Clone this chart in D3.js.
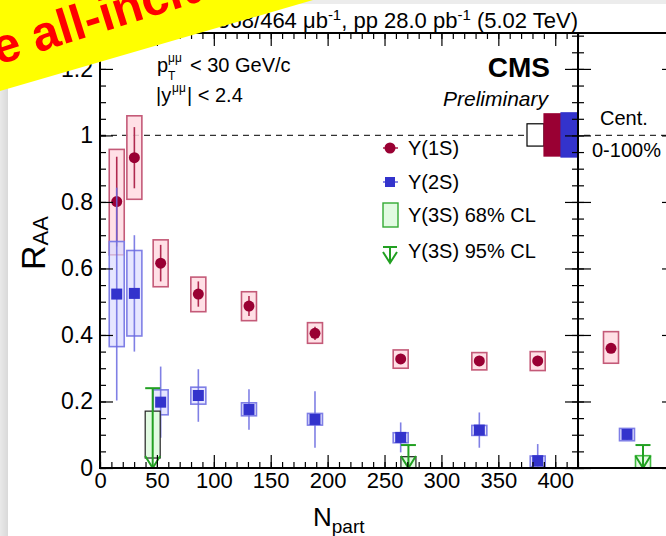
<!DOCTYPE html>
<html><head><meta charset="utf-8">
<script src="https://cdn.jsdelivr.net/npm/d3@7"></script>
<style>
body{margin:0;background:#fff}
svg{display:block;font-family:"Liberation Sans",Arial,Helvetica,sans-serif}
</style></head>
<body><svg id="c" width="666" height="536"></svg>
<script>
// ---------------- data ----------------
const nPart = [14.7, 30.2, 53.3, 86.4, 130.9, 188.9, 264.2, 333.3, 384.6];
const raa1S = [0.801, 0.933, 0.616, 0.523, 0.487, 0.405, 0.328, 0.322, 0.322];
const stat1S = [0.135, 0.092, 0.055, 0.038, 0.030, 0.020, 0.015, 0.015, 0.015];
const systLo1S = [0.641, 0.808, 0.545, 0.470, 0.443, 0.375, 0.300, 0.295, 0.293];
const systHi1S = [0.958, 1.059, 0.686, 0.574, 0.530, 0.437, 0.355, 0.347, 0.350];

const raa2S = [0.523, 0.525, 0.198, 0.218, 0.176, 0.146, 0.092, 0.114, 0.022];
const stat2S = [0.320, 0.175, 0.107, 0.079, 0.061, 0.085, 0.045, 0.053, 0.050];
const systLo2S = [0.365, 0.397, 0.160, 0.192, 0.157, 0.129, 0.076, 0.098, 0.004];
const systHi2S = [0.681, 0.654, 0.235, 0.243, 0.196, 0.164, 0.106, 0.128, 0.036];

const nPart3S = [46.3, 271.0];
const upper95_3S = [0.240, 0.069];
const cl68Lo3S = [0.030, 0.000];
const cl68Hi3S = [0.171, 0.034];

// minimum-bias (0-100%) panel
const mbStates = ["1S", "2S", "3S"];
const mbRaa = [0.360, 0.101, null];
const mbStat = [0.012, 0.015, null];
const mbSystLo = [0.315, 0.082, 0.000];
const mbSystHi = [0.410, 0.119, 0.037];
const mbUpper95 = [null, null, 0.069];

// global uncertainties at R_AA = 1
const globalKeys = ["pp", "1S", "2S"];
const globalLo = [0.968, 0.938, 0.935];
const globalHi = [1.035, 1.065, 1.068];

const xTicks = [0, 50, 100, 150, 200, 250, 300, 350, 400];
const yTicks = [0, 0.2, 0.4, 0.6, 0.8, 1.0, 1.2];
const legendLabels = ["\u03A5(1S)", "\u03A5(2S)", "\u03A5(3S) 68% CL", "\u03A5(3S) 95% CL"];

// ---------------- styles ----------------
const C1 = "#990033", C1box = "#ffdbe2", C1edge = "#c45a78", C1err = "#b02a50";
const C2 = "#3333cc", C2box = "#dcdcff", C2edge = "#7f7fe6", C2err = "#6a6ae0";
const CG = "#22a022", CGbox = "#e2fbe2";
const boxHW = 7.5;

const svg = d3.select("#c");
const L = 100, R = 578, T = 33, B = 468, R2 = 675;
const x = d3.scaleLinear().domain([0, 420]).range([L, R]);
const y = d3.scaleLinear().domain([0, 1.308]).range([B, T]);
const xm = d3.scalePoint().domain(mbStates).range([611, 643]);

// background strips
const defs = svg.append("defs");
const lg = defs.append("linearGradient").attr("id", "lg").attr("x1", 0).attr("x2", 1);
lg.append("stop").attr("offset", 0).attr("stop-color", "#e9e9e9");
lg.append("stop").attr("offset", 1).attr("stop-color", "#d9d9d9");
svg.append("rect").attr("x", 0).attr("y", 0).attr("width", 666).attr("height", 4).attr("fill", "#ececec");
svg.append("rect").attr("x", 0).attr("y", 0).attr("width", 8).attr("height", 536).attr("fill", "url(#lg)");

const clip = defs.append("clipPath").attr("id", "frame");
clip.append("rect").attr("x", L).attr("y", T).attr("width", R2 - L).attr("height", B - T);

// dashed line at 1
svg.append("line").attr("x1", L).attr("x2", 666).attr("y1", y(1)).attr("y2", y(1))
  .attr("stroke", "#333").attr("stroke-width", 1.2).attr("stroke-dasharray", "6,5");

const plot = svg.append("g").attr("clip-path", "url(#frame)");

// --- 1S ---
const idx = d3.range(nPart.length);
plot.selectAll(".b1").data(idx).join("rect")
  .attr("x", i => x(nPart[i]) - boxHW).attr("width", 2 * boxHW)
  .attr("y", i => y(systHi1S[i])).attr("height", i => y(systLo1S[i]) - y(systHi1S[i]))
  .attr("fill", C1box).attr("fill-opacity", 0.85).attr("stroke", C1edge).attr("stroke-width", 1.6);
plot.selectAll(".e1").data(idx).join("line")
  .attr("x1", i => x(nPart[i])).attr("x2", i => x(nPart[i]))
  .attr("y1", i => y(raa1S[i] + stat1S[i])).attr("y2", i => y(raa1S[i] - stat1S[i]))
  .attr("stroke", C1err).attr("stroke-width", 1.6);
plot.selectAll(".m1").data(idx).join("circle")
  .attr("cx", i => x(nPart[i])).attr("cy", i => y(raa1S[i])).attr("r", 5.5).attr("fill", C1);

// --- 2S ---
plot.selectAll(".b2").data(idx).join("rect")
  .attr("x", i => x(nPart[i]) - boxHW).attr("width", 2 * boxHW)
  .attr("y", i => y(systHi2S[i])).attr("height", i => y(systLo2S[i]) - y(systHi2S[i]))
  .attr("fill", C2box).attr("fill-opacity", 0.7).attr("stroke", C2edge).attr("stroke-width", 1.6);
plot.selectAll(".e2").data(idx).join("line")
  .attr("x1", i => x(nPart[i])).attr("x2", i => x(nPart[i]))
  .attr("y1", i => y(raa2S[i] + stat2S[i])).attr("y2", i => y(Math.max(0, raa2S[i] - stat2S[i])))
  .attr("stroke", C2err).attr("stroke-opacity", 0.85).attr("stroke-width", 1.6);
plot.selectAll(".m2").data(idx).join("rect")
  .attr("x", i => x(nPart[i]) - 5.5).attr("y", i => y(raa2S[i]) - 5.5)
  .attr("width", 11).attr("height", 11).attr("fill", C2);

// --- 3S ---
const i3 = d3.range(nPart3S.length);
plot.selectAll(".b3").data(i3).join("rect")
  .attr("x", i => x(nPart3S[i]) - boxHW).attr("width", 2 * boxHW)
  .attr("y", i => y(cl68Hi3S[i])).attr("height", i => y(cl68Lo3S[i]) - y(cl68Hi3S[i]))
  .attr("fill", CGbox).attr("stroke", "#222").attr("stroke-width", 1.2);
function upperArrow(g, cx, top) {
  g.append("line").attr("x1", cx).attr("x2", cx).attr("y1", top).attr("y2", B)
    .attr("stroke", CG).attr("stroke-width", 2);
  g.append("line").attr("x1", cx - boxHW).attr("x2", cx + boxHW).attr("y1", top).attr("y2", top)
    .attr("stroke", CG).attr("stroke-width", 2);
  g.append("path").attr("d", `M${cx - boxHW},${B - 12}L${cx},${B}L${cx + boxHW},${B - 12}`)
    .attr("fill", "none").attr("stroke", CG).attr("stroke-width", 2);
}
i3.forEach(i => upperArrow(plot, x(nPart3S[i]), y(upper95_3S[i])));

// --- MB panel ---
const mb = svg.append("g").attr("clip-path", "url(#frame)");
mbStates.forEach((s, i) => {
  const cx = xm(s);
  const isG = i === 2;
  mb.append("rect").attr("x", cx - boxHW).attr("width", 2 * boxHW)
    .attr("y", y(mbSystHi[i])).attr("height", y(mbSystLo[i]) - y(mbSystHi[i]))
    .attr("fill", isG ? CGbox : (i === 0 ? C1box : C2box))
    .attr("fill-opacity", i === 1 ? 0.7 : 0.9)
    .attr("stroke", isG ? "#44bb44" : (i === 0 ? C1edge : C2edge)).attr("stroke-width", 1.6);
  if (mbRaa[i] != null) {
    mb.append("line").attr("x1", cx).attr("x2", cx)
      .attr("y1", y(mbRaa[i] + mbStat[i])).attr("y2", y(mbRaa[i] - mbStat[i]))
      .attr("stroke", i === 0 ? C1err : C2err).attr("stroke-width", 1.6);
    if (i === 0) mb.append("circle").attr("cx", cx).attr("cy", y(mbRaa[i])).attr("r", 5.5).attr("fill", C1);
    else mb.append("rect").attr("x", cx - 5.5).attr("y", y(mbRaa[i]) - 5.5).attr("width", 11).attr("height", 11).attr("fill", C2);
  }
  if (mbUpper95[i] != null) upperArrow(mb, cx, y(mbUpper95[i]));
});

// global uncertainty boxes
const gColors = ["none", C1, C2];
globalKeys.forEach((k, i) => {
  const x1 = R - 17 * (3 - i);
  svg.append("rect").attr("x", x1).attr("width", 17)
    .attr("y", y(globalHi[i])).attr("height", y(globalLo[i]) - y(globalHi[i]))
    .attr("fill", gColors[i] === "none" ? "#fff" : gColors[i])
    .attr("stroke", gColors[i] === "none" ? "#000" : gColors[i]).attr("stroke-width", 1.2);
});

// ---------------- axes ----------------
const minorY = d3.range(0, 27).map(k => +(k * 0.05).toFixed(2));
const minorX = d3.range(0, 43).map(k => k * 10);
const fmtY = d => d === 0 ? "0" : (d === 1 ? "1" : d.toFixed(1));
function style(g) { g.select(".domain").remove(); g.selectAll("line").attr("stroke", "#000").attr("stroke-width", 1.2); }

svg.append("g").attr("transform", `translate(${L},0)`)
  .call(d3.axisLeft(y).tickValues(minorY).tickSize(-6).tickFormat("")).call(style);
svg.append("g").attr("transform", `translate(${L},0)`)
  .call(d3.axisLeft(y).tickValues(yTicks).tickSize(-13).tickPadding(7).tickFormat(fmtY)).call(style)
  .selectAll("text").attr("font-size", 23).attr("fill", "#000").attr("font-family", "Liberation Sans, Arial, sans-serif");
[[-6, minorY], [-13, yTicks], [6, minorY], [13, yTicks]].forEach(([s, v]) => {
  svg.append("g").attr("transform", `translate(${R},0)`)
    .call(d3.axisRight(y).tickValues(v).tickSize(s).tickFormat("")).call(style);
});
[[-6, minorY], [-13, yTicks]].forEach(([s, v]) => {
  svg.append("g").attr("transform", `translate(${R2},0)`)
    .call(d3.axisRight(y).tickValues(v).tickSize(s).tickFormat("")).call(style);
});
svg.append("g").attr("transform", `translate(0,${B})`)
  .call(d3.axisBottom(x).tickValues(minorX).tickSize(-6).tickFormat("")).call(style);
svg.append("g").attr("transform", `translate(0,${B})`)
  .call(d3.axisBottom(x).tickValues(xTicks).tickSize(-13).tickPadding(4).tickFormat(d3.format("d"))).call(style)
  .selectAll("text").attr("font-size", 22).attr("fill", "#000").attr("font-family", "Liberation Sans, Arial, sans-serif");
svg.append("g").attr("transform", `translate(0,${T})`)
  .call(d3.axisTop(x).tickValues(minorX).tickSize(-6).tickFormat("")).call(style);
svg.append("g").attr("transform", `translate(0,${T})`)
  .call(d3.axisTop(x).tickValues(xTicks).tickSize(-13).tickFormat("")).call(style);

// frames
svg.append("rect").attr("x", L).attr("y", T).attr("width", R - L).attr("height", B - T)
  .attr("fill", "none").attr("stroke", "#000").attr("stroke-width", 2);
svg.append("rect").attr("x", R).attr("y", T).attr("width", R2 - R).attr("height", B - T)
  .attr("fill", "none").attr("stroke", "#000").attr("stroke-width", 2);

// ---------------- texts ----------------
const t = svg.append("text").attr("x", R).attr("y", 28).attr("text-anchor", "end").attr("font-size", 22);
t.append("tspan").text("PbPb 368/464 \u03BCb");
t.append("tspan").attr("font-size", 15).attr("dy", -8).text("-1");
t.append("tspan").attr("dy", 8).text(", pp 28.0 pb");
t.append("tspan").attr("font-size", 15).attr("dy", -8).text("-1");
t.append("tspan").attr("dy", 8).text(" (5.02 TeV)");

svg.append("text").attr("x", 550).attr("y", 77).attr("text-anchor", "end")
  .attr("font-size", 28).attr("font-weight", "bold").text("CMS");
svg.append("text").attr("x", 548).attr("y", 106).attr("text-anchor", "end")
  .attr("font-size", 21).attr("font-style", "italic").text("Preliminary");

const a1 = svg.append("g").attr("font-size", 20);
a1.append("text").attr("x", 157).attr("y", 72).text("p");
a1.append("text").attr("x", 168).attr("y", 62).attr("font-size", 12).text("\u03BC\u03BC");
a1.append("text").attr("x", 168).attr("y", 80).attr("font-size", 12).text("T");
a1.append("text").attr("x", 190).attr("y", 72).text("< 30 GeV/c");
a1.append("text").attr("x", 156).attr("y", 102).text("|y");
a1.append("text").attr("x", 172).attr("y", 92).attr("font-size", 12).text("\u03BC\u03BC");
a1.append("text").attr("x", 187).attr("y", 102).text("| < 2.4");

svg.append("text").attr("x", 600).attr("y", 125).attr("font-size", 20).text("Cent.");
svg.append("text").attr("x", 592).attr("y", 157).attr("font-size", 20).text("0-100%");

// legend
const lgY = [148, 182, 215, 251];
const leg = svg.append("g");
leg.append("line").attr("x1", 383).attr("x2", 398).attr("y1", lgY[0]).attr("y2", lgY[0]).attr("stroke", C1err).attr("stroke-width", 1.6);
leg.append("circle").attr("cx", 390).attr("cy", lgY[0]).attr("r", 5.5).attr("fill", C1);
leg.append("line").attr("x1", 383).attr("x2", 398).attr("y1", lgY[1]).attr("y2", lgY[1]).attr("stroke", C2err).attr("stroke-width", 1.6);
leg.append("rect").attr("x", 385).attr("y", lgY[1] - 5).attr("width", 10).attr("height", 10).attr("fill", C2);
leg.append("rect").attr("x", 383).attr("y", lgY[2] - 12).attr("width", 15).attr("height", 24)
  .attr("fill", CGbox).attr("stroke", "#33aa33").attr("stroke-width", 1.4);
leg.append("line").attr("x1", 383).attr("x2", 397).attr("y1", lgY[3] - 4).attr("y2", lgY[3] - 4).attr("stroke", CG).attr("stroke-width", 2);
leg.append("line").attr("x1", 390).attr("x2", 390).attr("y1", lgY[3] - 4).attr("y2", lgY[3] + 11).attr("stroke", CG).attr("stroke-width", 2);
leg.append("path").attr("d", `M383,${lgY[3] + 1}L390,${lgY[3] + 12}L397,${lgY[3] + 1}`).attr("fill", "none").attr("stroke", CG).attr("stroke-width", 2);
leg.selectAll(".lt").data(legendLabels).join("text")
  .attr("x", 408).attr("y", (d, i) => lgY[i] + 7).attr("font-size", 20).text(d => d);

// axis titles
const xt = svg.append("text").attr("x", 313).attr("y", 526).attr("font-size", 26);
xt.append("tspan").text("N");
xt.append("tspan").attr("font-size", 19).attr("dy", 7).text("part");
const yt = svg.append("text").attr("transform", "translate(45,270) rotate(-90)").attr("font-size", 34);
yt.append("tspan").text("R");
yt.append("tspan").attr("font-size", 22).attr("dy", 3).text("AA");

// banner
svg.append("polygon").attr("points", "0,0 313,0 0,91").attr("fill", "#ffff00");
svg.append("text").attr("transform", "translate(-2,65) rotate(-17.5)")
  .attr("font-size", 49).attr("font-weight", "bold").attr("fill", "#ff0000").text("e all-inclusive");
</script></body></html>
